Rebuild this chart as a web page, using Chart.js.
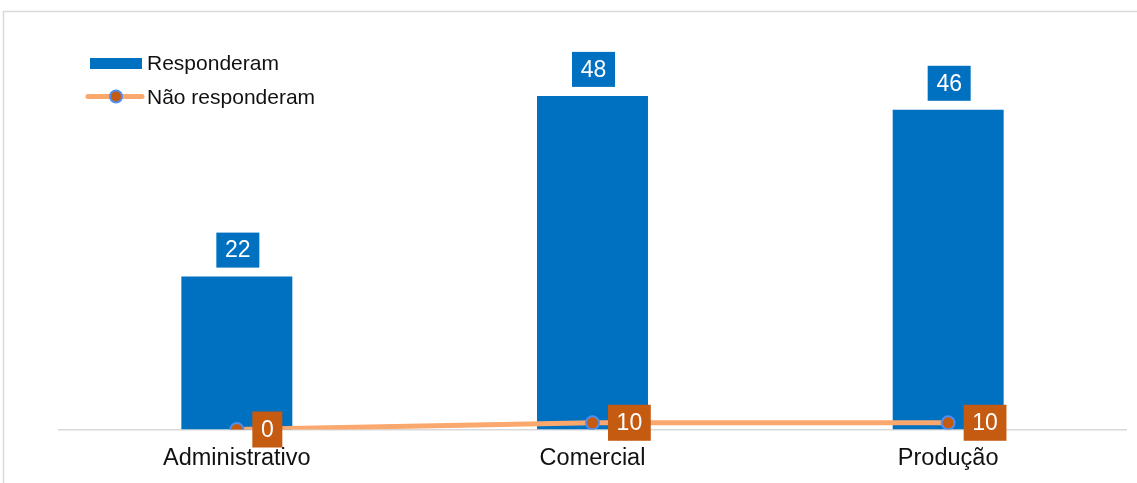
<!DOCTYPE html>
<html>
<head>
<meta charset="utf-8">
<script src="https://cdn.jsdelivr.net/npm/chart.js@4/dist/chart.umd.min.js"></script>
<style>
html,body{margin:0;padding:0;background:#fff;}
#wrap{position:relative;width:1137px;height:483px;}
</style>
</head>
<body>
<div id="wrap"><canvas id="c" width="1137" height="483"></canvas></div>
<script>
const categories = ['Administrativo', 'Comercial', 'Produção'];
const responderam = [22, 48, 46];
const naoResponderam = [0, 10, 10];
const seriesNames = ['Responderam', 'Não responderam'];

const BLUE = '#0070C0';
const ORANGE_LINE = '#FBA86E';
const ORANGE_DARK = '#C55A11';
const POINT_BORDER = '#4F8EF0';
const FONT = '"Liberation Sans", Arial, sans-serif';

const framePlugin = {
  id: 'frame',
  beforeDraw(chart) {
    const ctx = chart.ctx;
    ctx.save();
    ctx.strokeStyle = '#D9D9D9';
    ctx.lineWidth = 1.5;
    ctx.strokeRect(3.5, 11.5, 3000, 3000);
    ctx.restore();
  }
};

function drawBox(ctx, text, cx, cy, color, font, padX, h, alignLeft) {
  ctx.font = font;
  const w = ctx.measureText(text).width + padX * 2;
  const x = alignLeft ? cx : cx - w / 2;
  ctx.fillStyle = color;
  ctx.fillRect(x, cy - h / 2, w, h);
  ctx.fillStyle = '#fff';
  ctx.textAlign = 'center';
  ctx.textBaseline = 'middle';
  ctx.fillText(text, x + w / 2, cy + 1);
}

const labelPlugin = {
  id: 'labels',
  afterDatasetsDraw(chart) {
    const ctx = chart.ctx;
    ctx.save();
    const barMeta = chart.getDatasetMeta(0);
    barMeta.data.forEach((el, i) => {
      drawBox(ctx, String(responderam[i]), el.x + 1, el.y - 9 - 17.5, BLUE, '23px ' + FONT, 8.7, 35, false);
    });
    const lineMeta = chart.getDatasetMeta(1);
    lineMeta.data.forEach((el, i) => {
      drawBox(ctx, String(naoResponderam[i]), el.x + 15.5, el.y, ORANGE_DARK, '23px ' + FONT, 8.6, 36, true);
    });
    ctx.restore();
  },
  afterDraw(chart) {
    const ctx = chart.ctx;
    ctx.save();
    // legend item 1
    ctx.fillStyle = BLUE;
    ctx.fillRect(90, 58, 52, 11);
    ctx.fillStyle = '#111';
    ctx.font = '21px ' + FONT;
    ctx.textAlign = 'left';
    ctx.textBaseline = 'alphabetic';
    ctx.fillText(seriesNames[0], 147, 70);
    // legend item 2
    ctx.strokeStyle = ORANGE_LINE;
    ctx.lineWidth = 5;
    ctx.lineCap = 'round';
    ctx.beginPath();
    ctx.moveTo(88, 96.5);
    ctx.lineTo(142, 96.5);
    ctx.stroke();
    ctx.beginPath();
    ctx.arc(116, 96.5, 6, 0, Math.PI * 2);
    ctx.fillStyle = ORANGE_DARK;
    ctx.fill();
    ctx.lineWidth = 2;
    ctx.strokeStyle = POINT_BORDER;
    ctx.stroke();
    ctx.fillStyle = '#111';
    ctx.fillText(seriesNames[1], 147, 104);
    ctx.restore();
  }
};

new Chart(document.getElementById('c'), {
  data: {
    labels: categories,
    datasets: [
      {
        type: 'bar',
        label: seriesNames[0],
        data: responderam,
        backgroundColor: BLUE,
        categoryPercentage: 1,
        barPercentage: 0.312,
        yAxisID: 'y',
        order: 2
      },
      {
        type: 'line',
        label: seriesNames[1],
        data: naoResponderam,
        borderColor: ORANGE_LINE,
        borderWidth: 5,
        borderCapStyle: 'round',
        pointBackgroundColor: ORANGE_DARK,
        pointBorderColor: POINT_BORDER,
        pointBorderWidth: 2,
        pointRadius: 6.5,
        tension: 0,
        yAxisID: 'y1',
        order: 1
      }
    ]
  },
  options: {
    responsive: false,
    animation: false,
    devicePixelRatio: 1,
    layout: { padding: { left: 59, right: 11, top: 12.5, bottom: 0 } },
    plugins: {
      legend: { display: false },
      tooltip: { enabled: false }
    },
    scales: {
      x: {
        grid: { display: false, drawTicks: false },
        border: { display: true, color: '#D9D9D9', width: 1.5 },
        ticks: { color: '#111', font: { family: FONT, size: 23.5 }, padding: 15 },
        afterFit(scale) { scale.height = 53.5; }
      },
      y: {
        display: false,
        min: 0,
        max: 60
      },
      y1: {
        display: false,
        min: 0,
        max: 620
      }
    }
  },
  plugins: [framePlugin, labelPlugin]
});
</script>
</body>
</html>
